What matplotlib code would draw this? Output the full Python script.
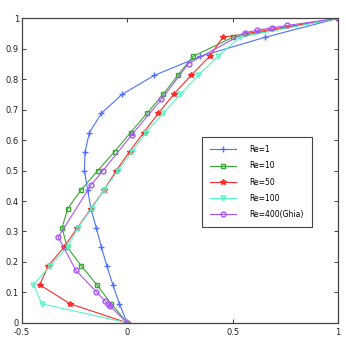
import matplotlib
matplotlib.use('Agg')
import matplotlib.pyplot as plt

# --- data: u velocity along the vertical centreline ---
y_grid = [0, 0.0625, 0.125, 0.1875, 0.25, 0.3125, 0.375, 0.4375, 0.5,
          0.5625, 0.625, 0.6875, 0.75, 0.8125, 0.875, 0.9375, 1]

u_re1 = [0, -0.037, -0.068, -0.097, -0.123, -0.147, -0.172, -0.188, -0.203,
         -0.200, -0.179, -0.123, -0.025, 0.128, 0.347, 0.652, 1]
u_re10 = [0, -0.076, -0.144, -0.218, -0.286, -0.309, -0.282, -0.218, -0.139,
          -0.060, 0.016, 0.093, 0.170, 0.239, 0.312, 0.500, 1]
u_re50 = [0, -0.271, -0.415, -0.374, -0.298, -0.236, -0.172, -0.109, -0.052,
          0.011, 0.078, 0.147, 0.220, 0.302, 0.391, 0.453, 1]
u_re100 = [0, -0.405, -0.445, -0.366, -0.282, -0.234, -0.169, -0.109, -0.044,
           0.022, 0.089, 0.170, 0.252, 0.336, 0.431, 0.533, 1]

y_ghia = [1.0, 0.9766, 0.9688, 0.9609, 0.9531, 0.8516, 0.7344, 0.6172, 0.5,
          0.4531, 0.2813, 0.1719, 0.1016, 0.0703, 0.0625, 0.0547, 0.0]
u_ghia = [1.0, 0.75837, 0.68439, 0.61756, 0.55892, 0.29093, 0.16256, 0.02135,
          -0.11477, -0.17119, -0.32726, -0.24299, -0.14612, -0.10338,
          -0.09266, -0.08186, 0.0]

x_ticks = [-0.5, 0, 0.5, 1]
x_labels = ['-0.5', '0', '0.5', '1']
y_ticks = [0, 0.1, 0.2, 0.3, 0.4, 0.5, 0.6, 0.7, 0.8, 0.9, 1]
y_labels = ['0', '0.1', '0.2', '0.3', '0.4', '0.5', '0.6', '0.7', '0.8', '0.9', '1']

# --- plot ---
fig = plt.figure(figsize=(3.46, 3.46), dpi=100)
ax = fig.add_axes([0.063, 0.067, 0.914, 0.88])

lw = 0.8
ax.plot(u_re1, y_grid, color='#4f6fff', marker='+', ms=5, lw=lw, label='Re=1')
ax.plot(u_re10, y_grid, color='#3aa832', marker='s', ms=3.5, mfc='none', lw=lw, label='Re=10')
ax.plot(u_re50, y_grid, color='#ff2a2a', marker='*', ms=4, lw=lw, label='Re=50')
ax.plot(u_re100, y_grid, color='#55f5c8', marker='v', ms=3.5, mfc='none', lw=lw, label='Re=100')
ax.plot(u_ghia, y_ghia, color='#a855f7', marker='o', ms=3.5, mfc='none', lw=lw, label='Re=400(Ghia)')

ax.set_xlim(-0.5, 1)
ax.set_ylim(0, 1)
ax.set_xticks(x_ticks)
ax.set_xticklabels(x_labels)
ax.set_yticks(y_ticks)
ax.set_yticklabels(y_labels)
ax.tick_params(direction='in', top=True, right=True, labelsize=6, length=3,
               width=0.6, colors='#222222', pad=2)
ax.tick_params(axis='x', pad=4)
for spine in ax.spines.values():
    spine.set_edgecolor('#444444')
    spine.set_linewidth(0.9)

leg = ax.legend(loc='upper left', bbox_to_anchor=(0.571, 0.609), fontsize=5.5,
                fancybox=False, framealpha=1, edgecolor='#444444',
                handlelength=3.4, labelspacing=0.95, borderpad=1.0,
                handletextpad=1.8, borderaxespad=0)
leg.get_frame().set_linewidth(0.8)

fig.savefig('out.png', dpi=100)
